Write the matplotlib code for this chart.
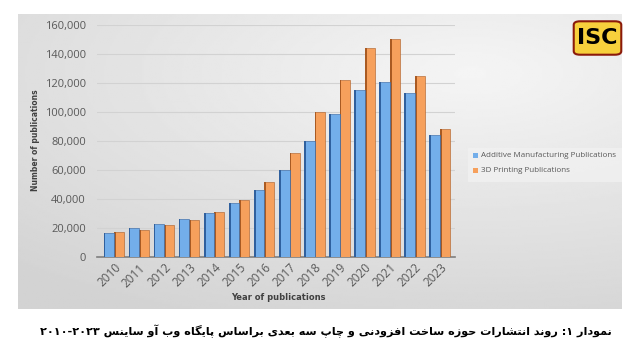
import re
import numpy as np
import matplotlib
matplotlib.use("Agg")
import matplotlib.pyplot as plt
from matplotlib.patches import FancyBboxPatch, Rectangle

# DATOS
years = ['2010', '2011', '2012', '2013', '2014', '2015', '2016',
         '2017', '2018', '2019', '2020', '2021', '2022', '2023']
am_pubs = [16500, 20000, 22500, 26000, 30500, 37000, 46000,
           60000, 80000, 98500, 115000, 121000, 113000, 84000]
printing_pubs = [17500, 18500, 22000, 25500, 31000, 39500, 52000,
                 72000, 100000, 122000, 144000, 150000, 125000, 88000]
series_names = ['Additive Manufacturing Publications', '3D Printing Publications']
yticks = [0, 20000, 40000, 60000, 80000, 100000, 120000, 140000, 160000]
caption = 'نمودار ۱: روند انتشارات حوزه ساخت افزودنی و چاپ سه بعدی براساس پایگاه وب آو ساینس ۲۰۱۰-۲۰۲۳'


# FORMAS ÁRABES (aislada, final, inicial, media)
forms = {
    'ا': '\uFE8D\uFE8E', 'آ': '\uFE81\uFE82', 'د': '\uFEA9\uFEAA', 'ذ': '\uFEAB\uFEAC',
    'ر': '\uFEAD\uFEAE', 'ز': '\uFEAF\uFEB0', 'ژ': '\uFB8A\uFB8B', 'و': '\uFEED\uFEEE',
    'ب': '\uFE8F\uFE90\uFE91\uFE92', 'پ': '\uFB56\uFB57\uFB58\uFB59',
    'ت': '\uFE95\uFE96\uFE97\uFE98', 'ث': '\uFE99\uFE9A\uFE9B\uFE9C',
    'ج': '\uFE9D\uFE9E\uFE9F\uFEA0', 'چ': '\uFB7A\uFB7B\uFB7C\uFB7D',
    'ح': '\uFEA1\uFEA2\uFEA3\uFEA4', 'خ': '\uFEA5\uFEA6\uFEA7\uFEA8',
    'س': '\uFEB1\uFEB2\uFEB3\uFEB4', 'ش': '\uFEB5\uFEB6\uFEB7\uFEB8',
    'ع': '\uFEC9\uFECA\uFECB\uFECC', 'ف': '\uFED1\uFED2\uFED3\uFED4',
    'ق': '\uFED5\uFED6\uFED7\uFED8', 'ک': '\uFB8E\uFB8F\uFB90\uFB91',
    'گ': '\uFB92\uFB93\uFB94\uFB95', 'ل': '\uFEDD\uFEDE\uFEDF\uFEE0',
    'م': '\uFEE1\uFEE2\uFEE3\uFEE4', 'ن': '\uFEE5\uFEE6\uFEE7\uFEE8',
    'ه': '\uFEE9\uFEEA\uFEEB\uFEEC', 'ی': '\uFBFC\uFBFD\uFBFE\uFBFF',
}


def persian(text):
    out = []
    for i, c in enumerate(text):
        if c not in forms:
            out.append(c)
            continue
        prev = text[i-1] if i > 0 else ''
        nxt = text[i+1] if i + 1 < len(text) else ''
        jp = prev in forms and len(forms[prev]) == 4
        jn = nxt in forms and len(forms[c]) == 4
        f = forms[c]
        if jp and jn:
            out.append(f[3])
        elif jp:
            out.append(f[1])
        elif jn:
            out.append(f[2])
        else:
            out.append(f[0])
    rev = ''.join(out)[::-1]
    return re.sub(r'[۰-۹\-]+', lambda m: m.group(0)[::-1], rev)


fig = plt.figure(figsize=(6.4, 3.54), dpi=100)
fig.patch.set_facecolor('white')

# Panel gris con degradado
W, H = 640, 354
px, py, pw, ph = 18, 14, 604, 295
bg = fig.add_axes([px/W, 1 - (py+ph)/H, pw/W, ph/H], zorder=0)
gx, gy = np.meshgrid(np.linspace(0, 1, 300), np.linspace(0, 1, 150))
d = np.sqrt(((gx - 0.75)*1.0)**2 + ((gy - 0.8)*1.2)**2)
grad = 0.96 - 0.12*np.clip(d, 0, 1.1)
bg.imshow(grad, cmap='gray', vmin=0, vmax=1, aspect='auto', origin='lower',
          extent=[0, 1, 0, 1])
bg.axis('off')

# Ejes principales
ax = fig.add_axes([97/W, 1 - 257/H, 358/W, 232/H], zorder=1)
ax.set_facecolor('none')
x = np.arange(len(years))

blue, blue_dk = '#73AEEA', '#2F609E'
orng, orng_dk = '#F6A05C', '#A95A22'

ax.bar(x, printing_pubs, width=0.4, align='edge', color=orng,
       edgecolor=orng_dk, linewidth=0.4, zorder=3)
ax.bar(x, printing_pubs, width=0.07, align='edge', color=orng_dk,
       linewidth=0, zorder=3)
ax.bar(x - 0.42, am_pubs, width=0.42, align='edge', color=blue,
       edgecolor=blue_dk, linewidth=0.4, zorder=4)
ax.bar(x - 0.42, am_pubs, width=0.07, align='edge', color=blue_dk,
       linewidth=0, zorder=4)

ax.set_xlim(-0.68, 13.6)
ax.set_ylim(0, 160000)
ax.set_yticks(yticks)
ax.set_yticklabels([f'{v:,}' for v in yticks], fontsize=8, color='#595959',
                   family='Open Sans')
ax.set_xticks(x)
ax.set_xticklabels(years, rotation=45, ha='right', va='top',
                   rotation_mode='anchor', fontsize=8.5, color='#595959',
                   family='Open Sans')
ax.tick_params(length=0, pad=8)
ax.tick_params(axis='x', pad=3)
ax.grid(axis='y', color='#d2d2d2', linewidth=0.8, zorder=0)
for s in ['top', 'right', 'left']:
    ax.spines[s].set_visible(False)
ax.spines['bottom'].set_color('#7f7f7f')
ax.spines['bottom'].set_linewidth(1.2)

fig.text(35/W, 1 - 140/H, 'Number of publications', rotation=90, ha='center',
         va='center', fontsize=5.5, fontweight='bold', color='#404040')
fig.text(278/W, 1 - 297/H, 'Year of publications', ha='center', va='center',
         fontsize=6, fontweight='bold', color='#404040')

# Leyenda
fig.patches.append(Rectangle((468/W, 1 - 182/H), 154/W, 34/H,
                             transform=fig.transFigure, facecolor='#f2f2f2',
                             edgecolor='none', alpha=0.7, zorder=1))
for i, (name, col) in enumerate(zip(series_names, [blue, orng])):
    yy = 1 - (156 + 14*i)/H
    fig.patches.append(Rectangle((473/W, yy - 2.5/H), 5/W, 5/H,
                                 transform=fig.transFigure, facecolor=col,
                                 edgecolor='none', zorder=2))
    fig.text(481/W, yy, name, ha='left', va='center', fontsize=5.75,
             color='#595959', family='Open Sans', zorder=2)

# Logo ISC
fig.patches.append(FancyBboxPatch((575/W, 1 - 54/H), 45/W, 32/H,
                                  boxstyle='round,pad=0.002,rounding_size=0.01',
                                  transform=fig.transFigure, facecolor='#F7D03C',
                                  edgecolor='#8B1A0A', linewidth=1.5, zorder=3))
fig.text(597.5/W, 1 - 38/H, 'ISC', ha='center', va='center', fontsize=16,
         fontweight='black', color='black', family='DejaVu Sans', zorder=4)

# Leyenda de la figura
fig.text(612/W, 1 - 331/H, persian(caption), ha='right', va='center',
         fontsize=8.1, fontweight='bold', color='black', family=['DejaVu Sans'])

fig.savefig('out.png', dpi=100, facecolor='white')
